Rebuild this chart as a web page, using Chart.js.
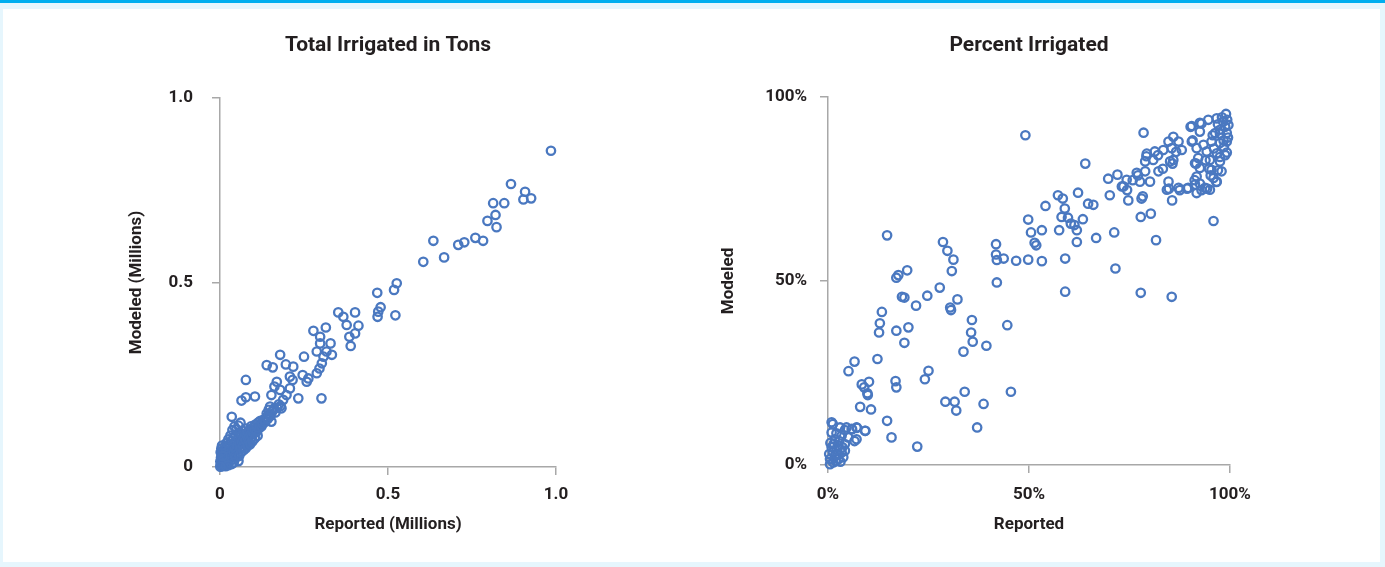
<!DOCTYPE html>
<html>
<head>
<meta charset="utf-8">
<script src="https://cdn.jsdelivr.net/npm/chart.js@4.4.1/dist/chart.umd.min.js"></script>
<style>
html,body{margin:0;padding:0;}
body{width:1385px;height:567px;background:#e6f6fd;position:relative;overflow:hidden;}
#barra{position:absolute;left:0;top:0;width:1385px;height:3px;background:#00aeef;}
#panel{position:absolute;left:3px;top:9px;width:1377px;height:553px;background:#fff;}
canvas{position:absolute;top:0;}
</style>
</head>
<body>
<div id="barra"></div>
<div id="panel"></div>
<canvas id="tons" width="776" height="567" style="left:0"></canvas>
<canvas id="pct" width="712" height="567" style="left:673px"></canvas>
<script>
// valores: [reportado, modelado]
var tonsTicks = [0, 0.5, 1];
var tonsTickLabels = ['0', '0.5', '1.0'];
var pctTicks = [0, 50, 100];
var pctTickLabels = ['0%', '50%', '100%'];

var tonsPoints = [
 [0.985,0.857],[0.866,0.767],[0.908,0.746],[0.903,0.725],[0.926,0.728],[0.813,0.715],[0.846,0.715],
 [0.820,0.683],[0.796,0.667],[0.823,0.650],[0.635,0.613],[0.709,0.602],[0.727,0.609],[0.760,0.621],
 [0.783,0.613],[0.605,0.556],[0.667,0.568],[0.526,0.498],[0.518,0.480],[0.468,0.472],[0.478,0.433],
 [0.471,0.421],[0.469,0.407],[0.522,0.411],[0.352,0.419],[0.367,0.407],[0.402,0.419],[0.377,0.385],
 [0.412,0.383],[0.402,0.362],[0.385,0.353],[0.389,0.328],[0.278,0.369],[0.315,0.378],[0.298,0.353],
 [0.298,0.335],[0.329,0.335],[0.288,0.313],[0.317,0.313],[0.333,0.304],[0.308,0.299],[0.303,0.281],
 [0.296,0.267],[0.288,0.254],[0.250,0.299],[0.179,0.304],[0.139,0.276],[0.157,0.270],[0.196,0.278],
 [0.218,0.272],[0.246,0.249],[0.263,0.240],[0.258,0.231],[0.208,0.245],[0.216,0.236],[0.169,0.231],
 [0.162,0.218],[0.179,0.209],[0.208,0.213],[0.198,0.195],[0.233,0.186],[0.188,0.182],[0.153,0.195],
 [0.183,0.159],[0.302,0.186],[0.077,0.236],[0.064,0.180],[0.077,0.189],[0.104,0.191],[0.149,0.164],
 [0.139,0.145],[0.153,0.123],[0.129,0.127],[0.035,0.136],[0.125,0.114],[0.109,0.105],[0.055,0.016],
 [0.002,0.004],[0.004,0.010],[0.006,0.002],[0.008,0.015],[0.010,0.006],[0.012,0.020],[0.003,0.025],
 [0.005,0.032],[0.007,0.040],[0.009,0.028],[0.011,0.012],[0.013,0.035],[0.015,0.045],[0.016,0.022],
 [0.018,0.008],[0.020,0.030],[0.021,0.050],[0.022,0.038],[0.024,0.018],[0.026,0.060],[0.027,0.042],
 [0.028,0.026],[0.030,0.055],[0.032,0.034],[0.033,0.070],[0.034,0.048],[0.036,0.020],[0.038,0.062],
 [0.039,0.040],[0.040,0.078],[0.042,0.052],[0.044,0.030],[0.045,0.066],[0.046,0.085],[0.048,0.045],
 [0.050,0.072],[0.051,0.058],[0.053,0.038],[0.055,0.080],[0.056,0.092],[0.058,0.062],[0.060,0.050],
 [0.062,0.075],[0.063,0.088],[0.065,0.068],[0.067,0.055],[0.068,0.098],[0.070,0.082],[0.072,0.064],
 [0.074,0.090],[0.075,0.072],[0.077,0.104],[0.079,0.060],[0.080,0.085],[0.082,0.095],[0.084,0.076],
 [0.086,0.068],[0.088,0.100],[0.090,0.088],[0.092,0.110],[0.094,0.080],[0.096,0.096],[0.098,0.106],
 [0.100,0.090],[0.103,0.100],[0.105,0.115],[0.108,0.095],[0.110,0.108],[0.113,0.120],[0.115,0.104],
 [0.118,0.112],[0.120,0.125],[0.123,0.110],[0.126,0.118],[0.130,0.128],[0.134,0.122],[0.138,0.135],
 [0.142,0.130],[0.146,0.142],[0.150,0.138],[0.155,0.150],[0.010,0.045],[0.014,0.055],[0.019,0.065],
 [0.025,0.075],[0.031,0.085],[0.037,0.100],[0.043,0.110],[0.049,0.102],[0.055,0.112],[0.061,0.120],
 [0.035,0.008],[0.041,0.012],[0.047,0.025],[0.057,0.030],[0.063,0.040],[0.069,0.045],[0.076,0.050],
 [0.083,0.058],[0.090,0.062],[0.097,0.070],[0.104,0.078],[0.112,0.085],[0.001,0.015],[0.002,0.040],
 [0.004,0.050],[0.006,0.058],[0.017,0.002],[0.025,0.005],[0.001,0.001],[0.008,0.030],[0.160,0.158],
 [0.165,0.148],[0.170,0.160],[0.175,0.170],[0.180,0.165],[0.145,0.155]
];

var pctPoints = [
 [49.1,89.6],[78.5,90.3],[64.0,81.9],[69.7,77.8],[72.0,78.9],[70.1,73.3],[73.1,75.7],[74.4,74.7],
 [74.7,71.9],[75.8,77.4],[77.1,78.7],[78.0,72.4],[77.8,67.4],[80.3,68.3],[81.6,61.1],[71.5,53.4],
 [77.8,46.8],[85.5,45.7],[95.9,66.3],[57.2,73.3],[58.4,72.4],[58.9,69.7],[58.1,67.4],[59.7,67.2],
 [60.4,65.6],[61.3,65.2],[62.2,74.0],[64.7,71.0],[66.0,70.7],[63.4,66.8],[61.9,63.8],[61.9,60.6],
 [66.7,61.7],[71.2,63.2],[54.1,70.4],[49.8,66.7],[50.5,63.2],[51.4,60.4],[51.8,59.7],[53.2,63.8],
 [57.5,63.8],[59.0,56.1],[59.0,47.1],[53.2,55.4],[49.8,55.8],[46.8,55.5],[43.7,56.1],[41.8,57.2],
 [41.8,60.0],[42.0,55.7],[42.0,49.6],[44.6,38.0],[45.5,19.9],[39.4,32.4],[38.7,16.6],[37.1,10.2],
 [35.8,39.4],[35.6,36.0],[36.0,33.5],[33.7,30.8],[34.0,19.9],[31.5,17.2],[31.9,14.8],[29.2,17.2],
 [28.6,60.6],[29.7,58.2],[31.2,55.8],[30.8,52.7],[27.8,48.2],[32.2,45.0],[30.4,42.8],[30.6,42.1],
 [24.7,46.0],[21.9,43.3],[25.0,25.6],[24.1,23.3],[22.2,5.0],[14.7,62.4],[17.0,50.9],[17.5,51.6],
 [19.7,52.9],[18.4,45.7],[19.0,45.5],[13.4,41.6],[12.9,38.5],[12.7,36.0],[17.0,36.5],[20.0,37.4],
 [19.0,33.2],[12.3,28.8],[16.8,22.8],[17.0,21.1],[14.7,12.0],[15.8,7.5],[6.6,28.1],[5.1,25.5],
 [8.4,21.9],[9.0,21.1],[10.2,22.6],[9.8,19.5],[9.9,19.0],[8.0,15.8],[10.7,15.1],[9.3,9.3],
 [7.2,10.1],[6.0,9.7],[4.2,9.5],[6.6,6.5],[1.2,11.1],[2.1,8.6],
 [0.9,11.6],[3.0,10.2],[4.6,10.2],[5.9,9.8],[7.1,10.2],[9.2,9.3],[7.1,7.0],[0.9,8.8],[1.7,7.0],
 [3.4,8.0],[5.0,7.5],[4.2,5.7],[2.6,5.2],[0.9,4.8],[3.4,3.4],[1.7,2.5],[0.5,1.6],[2.6,1.6],
 [0.5,0.2],[1.3,0.7],[3.8,2.1],[4.2,3.9],[1.2,3.5],[2.2,4.1],[0.6,6.0],[2.8,6.5],[3.1,0.9],
 [1.9,1.0],[0.3,3.0],[2.4,2.8],[1.5,5.8],[3.6,4.8],
 [90.5,92.1],[92.5,93.0],[94.6,93.8],[96.7,94.2],[99.0,95.4],[98.3,93.3],[99.6,92.4],[97.5,91.1],
 [96.3,90.2],[99.2,90.2],[92.5,90.6],[90.5,87.9],[91.7,86.1],[93.4,87.0],[95.4,87.9],[97.5,87.5],
 [99.2,87.9],[94.2,85.2],[96.7,84.7],[99.2,84.9],[92.1,83.4],[91.3,82.0],[95.0,82.9],[97.5,82.5],
 [92.5,80.7],[95.4,80.2],[97.9,79.8],[91.7,78.4],[95.9,78.0],[91.3,76.2],[93.8,75.3],[96.7,77.0],
 [95.0,74.8],[85.9,89.2],[84.7,87.9],[87.2,87.9],[85.5,86.1],[88.0,85.6],[83.4,85.6],[81.3,85.2],
 [79.3,84.6],[80.9,82.9],[85.1,82.5],[85.9,82.9],[78.9,82.5],[82.2,79.8],[78.9,79.8],[76.8,79.4],
 [80.1,77.0],[77.6,77.0],[74.3,77.5],[73.5,75.7],[84.7,77.0],[84.3,74.8],[87.2,75.3],[89.6,75.3],
 [91.7,73.9],[78.3,73.0],[85.6,71.9],[84.8,75.1],[87.5,74.7],[89.3,75.1],[92.9,74.7],[94.3,75.1],
 [91.2,77.4],[95.2,78.7],[97.0,80.1],[97.5,83.7],[98.8,84.2],[96.6,76.9],[86.6,85.1],[85.7,81.9],
 [83.3,80.5],[82.1,84.2],[79.2,83.9],[92.5,76.5],[91.6,81.9],[93.9,82.8],[94.8,80.5],[98.4,88.2],
 [98.8,91.9],[97.5,90.0],[95.7,89.6],[90.7,88.2],[90.2,91.9],[92.9,92.8],[98.0,94.5],[99.3,93.8],
 [97.0,92.6],[99.5,89.0],[98.5,86.4],[96.0,86.0]
];

Chart.defaults.font.family = "Roboto, sans-serif";
Chart.defaults.font.weight = 'bold';
Chart.defaults.color = '#231f20';

var azul = '#4a78c0';
var gris = '#a8a8a8';

function eje(ticks, etiquetas, pad, titulo, tituloPad, ajuste) {
  return {
    type: 'linear',
    min: ticks[0],
    max: ticks[ticks.length - 1],
    afterBuildTicks: function(s) { s.ticks = ticks.map(function(v) { return { value: v }; }); },
    afterFit: ajuste,
    ticks: {
      autoSkip: false, maxRotation: 0, padding: pad,
      font: { size: 17 },
      callback: function(v, i) { return etiquetas[i]; }
    },
    grid: { drawOnChartArea: false, tickLength: 8, color: gris, lineWidth: 1.5 },
    border: { color: gris, width: 1.5 },
    title: { display: true, text: titulo, font: { size: 17 }, padding: tituloPad }
  };
}

// el titulo va en un eje superior vacio para quedar centrado sobre el area
function cabecera(titulo, alto) {
  return {
    type: 'linear', position: 'top', min: 0, max: 1,
    ticks: { display: false },
    grid: { display: false },
    border: { display: false },
    title: { display: true, text: titulo, font: { size: 21, weight: 'bold' }, padding: { top: 33.4, bottom: 0 } },
    afterFit: function(s) { s.height = alto; }
  };
}

function grafico(id, puntos, ticks, etiquetas, titulo, tituloX, tituloY, m) {
  new Chart(document.getElementById(id), {
    type: 'scatter',
    data: {
      datasets: [{
        data: puntos.map(function(p) { return { x: p[0], y: p[1] }; }),
        pointStyle: 'circle',
        pointRadius: 4.2,
        pointBorderWidth: 2.3,
        pointBorderColor: azul,
        pointBackgroundColor: 'rgba(0,0,0,0)',
        clip: false
      }]
    },
    options: {
      responsive: false,
      animation: false,
      events: [],
      layout: { padding: { left: 0, right: m.derecha, top: 0, bottom: 0 } },
      plugins: {
        legend: { display: false },
        tooltip: { enabled: false },
        title: { display: false }
      },
      scales: {
        x: eje(ticks, etiquetas, m.padX, tituloX, { top: 0, bottom: 31.8 },
               function(s) { s.height = m.altoX; }),
        y: eje(ticks, etiquetas, m.padY, tituloY, { top: m.tituloY, bottom: 0 },
               function(s) { s.width = m.anchoY; }),
        cabecera: cabecera(titulo, m.arriba)
      }
    }
  });
}

grafico('tons', tonsPoints, tonsTicks, tonsTickLabels,
  'Total Irrigated in Tons', 'Reported (Millions)', 'Modeled (Millions)',
  { derecha: 220, arriba: 98, altoX: 100, anchoY: 220, padX: 9.8, padY: 19, tituloY: 126.8 });

grafico('pct', pctPoints, pctTicks, pctTickLabels,
  'Percent Irrigated', 'Reported', 'Modeled',
  { derecha: 155, arriba: 97, altoX: 102, anchoY: 155, padX: 11.8, padY: 13, tituloY: 45.8 });
</script>
</body>
</html>
